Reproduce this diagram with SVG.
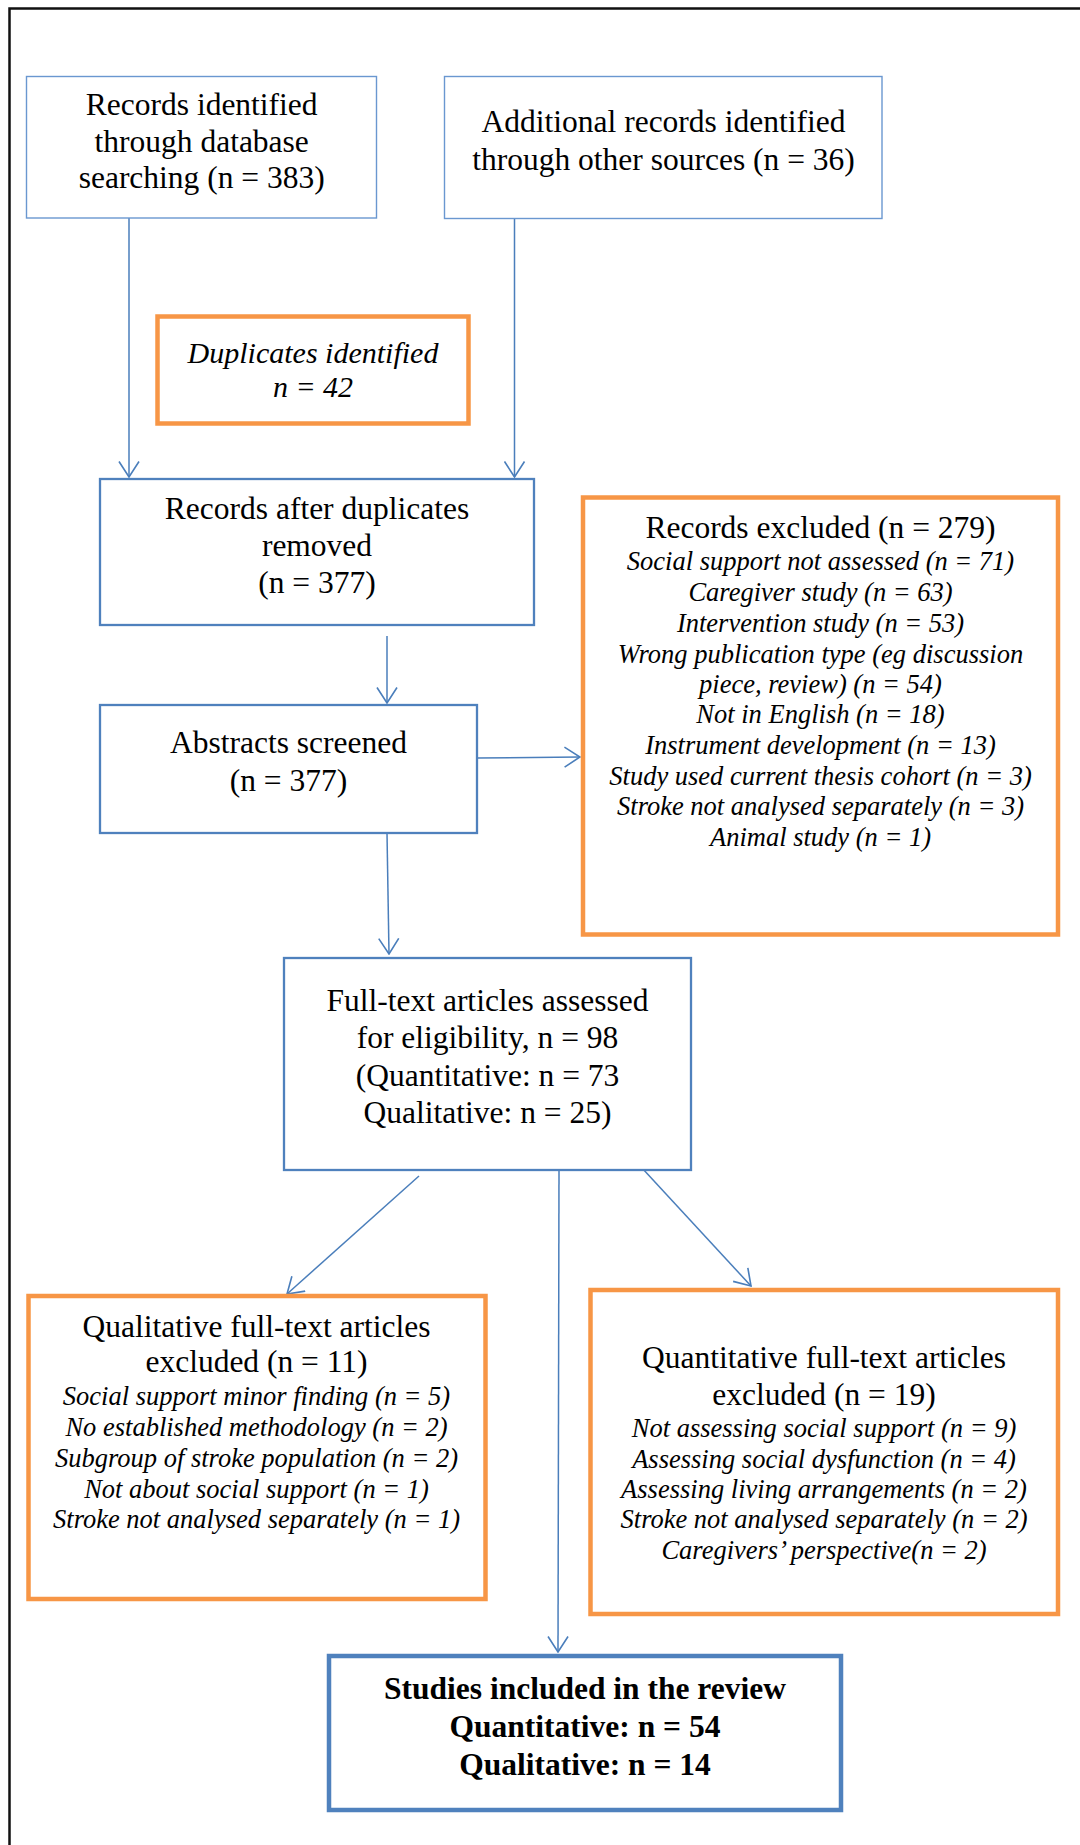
<svg xmlns="http://www.w3.org/2000/svg" width="1080" height="1845" viewBox="0 0 1080 1845">
<style>
.bg{fill:#ffffff}
.frame{stroke:#111111;stroke-width:2.5;fill:none}
.thin{fill:#ffffff;stroke:#6a97d0;stroke-width:1.4}
.blue{fill:#ffffff;stroke:#4f81bd;stroke-width:2.3}
.blueb{fill:#ffffff;stroke:#4f81bd;stroke-width:4.5}
.org{fill:#ffffff;stroke:#f79646;stroke-width:4.5}
.t{font-family:"Liberation Serif","Times New Roman",serif;font-size:31.5px;fill:#000;text-anchor:middle}
.i{font-family:"Liberation Serif","Times New Roman",serif;font-size:26.5px;font-style:italic;fill:#000;text-anchor:middle}
.d{font-family:"Liberation Serif","Times New Roman",serif;font-size:30px;font-style:italic;fill:#000;text-anchor:middle}
.b{font-family:"Liberation Serif","Times New Roman",serif;font-size:31.5px;font-weight:bold;fill:#000;text-anchor:middle}
.c{stroke:#4a7ebb;stroke-width:1.5;fill:none}
</style>
<defs>
<marker id="ah" viewBox="0 0 17 22" refX="16" refY="11" markerWidth="17" markerHeight="22" markerUnits="userSpaceOnUse" orient="auto">
<path d="M0.5,1 L16,11 L0.5,21" fill="none" stroke="#4a7ebb" stroke-width="1.6"/>
</marker>
</defs>
<rect class="bg" x="0" y="0" width="1080" height="1845"/>
<path class="frame" d="M9.5,1845 L9.5,8.5 L1080,8.5"/>

<g id="connectors">
<line class="c" x1="129" y1="218" x2="129" y2="477" marker-end="url(#ah)"/>
<line class="c" x1="514.5" y1="219" x2="514.5" y2="477" marker-end="url(#ah)"/>
<line class="c" x1="387" y1="636" x2="387" y2="703" marker-end="url(#ah)"/>
<line class="c" x1="477" y1="758" x2="580" y2="757" marker-end="url(#ah)"/>
<line class="c" x1="387" y1="833" x2="389" y2="954" marker-end="url(#ah)"/>
<line class="c" x1="419" y1="1176" x2="287" y2="1294" marker-end="url(#ah)"/>
<line class="c" x1="559" y1="1170" x2="558" y2="1652" marker-end="url(#ah)"/>
<line class="c" x1="642" y1="1168" x2="751" y2="1286" marker-end="url(#ah)"/>
</g>

<g id="db">
<rect class="thin" x="26.5" y="76.5" width="350" height="141.5"/>
<text class="t" x="201.7" y="115">Records identified</text>
<text class="t" x="201.7" y="152">through database</text>
<text class="t" x="201.7" y="188">searching (n = 383)</text>
</g>

<g id="other">
<rect class="thin" x="444.5" y="76.5" width="437.5" height="142"/>
<text class="t" x="663.5" y="132">Additional records identified</text>
<text class="t" x="663.5" y="170">through other sources (n = 36)</text>
</g>

<g id="dup">
<rect class="org" x="157.5" y="316.5" width="311" height="107"/>
<text class="d" x="313" y="363">Duplicates identified</text>
<text class="d" x="313" y="397">n = 42</text>
</g>

<g id="afterdup">
<rect class="blue" x="100" y="479" width="434" height="146"/>
<text class="t" x="317" y="519">Records after duplicates</text>
<text class="t" x="317" y="556">removed</text>
<text class="t" x="317" y="593">(n = 377)</text>
</g>

<g id="abstracts">
<rect class="blue" x="100" y="705" width="377" height="128"/>
<text class="t" x="288.5" y="753">Abstracts screened</text>
<text class="t" x="288.5" y="791">(n = 377)</text>
</g>

<g id="excluded">
<rect class="org" x="583" y="497.5" width="475" height="437"/>
<text class="t" x="820.5" y="538">Records excluded (n = 279)</text>
<text class="i" x="820.5" y="570">Social support not assessed (n = 71)</text>
<text class="i" x="820.5" y="601">Caregiver study (n = 63)</text>
<text class="i" x="820.5" y="632">Intervention study (n = 53)</text>
<text class="i" x="820.5" y="663">Wrong publication type (eg discussion</text>
<text class="i" x="820.5" y="693">piece, review) (n = 54)</text>
<text class="i" x="820.5" y="723">Not in English (n = 18)</text>
<text class="i" x="820.5" y="754">Instrument development (n = 13)</text>
<text class="i" x="820.5" y="785">Study used current thesis cohort (n = 3)</text>
<text class="i" x="820.5" y="815">Stroke not analysed separately (n = 3)</text>
<text class="i" x="820.5" y="846">Animal study (n = 1)</text>
</g>

<g id="fulltext">
<rect class="blue" x="284" y="958" width="407" height="212"/>
<text class="t" x="487.5" y="1011">Full-text articles assessed</text>
<text class="t" x="487.5" y="1048">for eligibility, n = 98</text>
<text class="t" x="487.5" y="1086">(Quantitative: n = 73</text>
<text class="t" x="487.5" y="1123">Qualitative: n = 25)</text>
</g>

<g id="qualex">
<rect class="org" x="28.5" y="1296" width="457" height="303"/>
<text class="t" x="256.5" y="1337">Qualitative full-text articles</text>
<text class="t" x="256.5" y="1372">excluded (n = 11)</text>
<text class="i" x="256.5" y="1405">Social support minor finding (n = 5)</text>
<text class="i" x="256.5" y="1436">No established methodology (n = 2)</text>
<text class="i" x="256.5" y="1467">Subgroup of stroke population (n = 2)</text>
<text class="i" x="256.5" y="1498">Not about social support (n = 1)</text>
<text class="i" x="256.5" y="1528">Stroke not analysed separately (n = 1)</text>
</g>

<g id="quantex">
<rect class="org" x="590.5" y="1290" width="467.5" height="324"/>
<text class="t" x="824" y="1368">Quantitative full-text articles</text>
<text class="t" x="824" y="1405">excluded (n = 19)</text>
<text class="i" x="824" y="1437">Not assessing social support (n = 9)</text>
<text class="i" x="824" y="1468">Assessing social dysfunction (n = 4)</text>
<text class="i" x="824" y="1498">Assessing living arrangements (n = 2)</text>
<text class="i" x="824" y="1528">Stroke not analysed separately (n = 2)</text>
<text class="i" x="824" y="1559">Caregivers’ perspective(n = 2)</text>
</g>

<g id="included">
<rect class="blueb" x="329" y="1656" width="512" height="154"/>
<text class="b" x="585" y="1699">Studies included in the review</text>
<text class="b" x="585" y="1737">Quantitative: n = 54</text>
<text class="b" x="585" y="1775">Qualitative: n = 14</text>
</g>
</svg>
